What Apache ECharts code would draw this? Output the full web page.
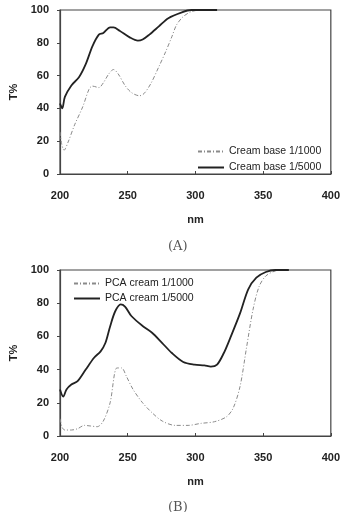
<!DOCTYPE html>
<html>
<head>
<meta charset="utf-8">
<script src="https://cdn.jsdelivr.net/npm/echarts@6/dist/echarts.min.js"></script>
<style>
  html, body { margin: 0; padding: 0; background: #fff; }
  #main { width: 343px; height: 512px; }
</style>
</head>
<body>
<div id="main"></div>
<script>
// wavelength (nm) / transmittance (%) pairs
var creamBase1000 = [
  [200, 25.7], [201.2, 18.5], [203, 14.5], [206, 19.5], [210.8, 30], [216.8, 41],
  [221.6, 52], [224, 53.6], [228.7, 52.7], [232, 55.6], [236, 61], [239.5, 63.7],
  [243, 61], [248, 54], [252.7, 49.7], [258.7, 47.7], [262, 49], [267, 55],
  [273, 65.4], [278, 74.5], [282.6, 83.7], [286, 90.8], [291, 96], [297, 99],
  [304, 100], [316, 100]
];
var creamBase5000 = [
  [200, 43], [201.7, 40], [203.6, 47], [208.4, 54], [214, 59], [219, 67],
  [224, 78], [228.7, 85], [232, 86], [237, 89.4], [239.5, 89.4], [244, 87.4],
  [251.5, 83.3], [257.5, 81.3], [261, 82], [266, 85], [273, 90], [280, 95],
  [290, 98.6], [297, 100], [316, 100]
];
var pcaCream1000 = [
  [200, 10.4], [201.7, 5], [203.6, 3.6], [208.4, 3.6], [213, 4.4], [218, 6.4],
  [222.8, 6], [227.5, 5.6], [232, 9], [237, 20], [242, 41], [245.5, 41],
  [249, 36], [254, 28], [261, 20], [268, 14], [275.5, 9], [285, 6.4],
  [294.6, 6.4], [304, 7.6], [314, 8.6], [323, 11.6], [328, 17], [333, 30],
  [337.7, 53], [342.5, 76], [347, 90], [352, 96.4], [359, 99.4], [369, 100]
];
var pcaCream5000 = [
  [200, 28], [202.4, 23.7], [204.8, 28], [208.4, 31], [213, 33], [219, 40],
  [225, 47], [230, 51], [233.5, 56], [237, 66], [240.7, 75], [244.8, 79.3],
  [248, 78], [252.7, 72.3], [261, 66.3], [268, 62.2], [275.5, 56], [282.6, 50],
  [291, 44.6], [299.4, 43], [306.6, 42.5], [311.4, 41.8], [316, 43], [321, 50],
  [325.7, 59], [333, 74], [339, 88.4], [345, 95.4], [352, 98.8], [359, 100],
  [369, 100]
];
var namesA = ['Cream base 1/1000', 'Cream base 1/5000'];
var namesB = ['PCA cream 1/1000', 'PCA cream 1/5000'];

var font = 'Liberation Sans, Arial, sans-serif';
var dashed = { color: '#8a8a8a', width: 1, type: [4, 2, 1, 2] };
var solid = { color: '#222', width: 1.8 };

function xAx(idx) {
  return {
    gridIndex: idx, type: 'value', min: 200, max: 400, interval: 50,
    name: 'nm', nameLocation: 'middle', nameGap: 40,
    nameTextStyle: { fontFamily: font, fontSize: 11, fontWeight: 'bold', color: '#222' },
    axisLine: { lineStyle: { color: '#444', width: 1.2 } },
    axisTick: { inside: true, length: 3, lineStyle: { color: '#444' } },
    axisLabel: { margin: 16, fontFamily: font, fontSize: 11, fontWeight: 'bold', color: '#222' },
    splitLine: { show: false }
  };
}
function yAx(idx) {
  return {
    gridIndex: idx, type: 'value', min: 0, max: 100, interval: 20,
    name: 'T%', nameLocation: 'middle', nameGap: 41, nameRotate: 90,
    nameTextStyle: { fontFamily: font, fontSize: 11, fontWeight: 'bold', color: '#222' },
    axisLine: { lineStyle: { color: '#444', width: 1.2 } },
    axisTick: { show: true, length: 3, lineStyle: { color: '#444' } },
    axisLabel: { margin: 11, fontFamily: font, fontSize: 11, fontWeight: 'bold', color: '#222' },
    splitLine: { show: false }
  };
}
function line(name, data, idx, style) {
  return {
    name: name, type: 'line', xAxisIndex: idx, yAxisIndex: idx,
    data: data, smooth: 0.3, showSymbol: false, symbol: 'none',
    lineStyle: style, itemStyle: { color: style.color }, silent: true
  };
}
function legend(names, left, top, gap) {
  return {
    data: names, orient: 'vertical', left: left, top: top, itemGap: gap, padding: 0,
    itemWidth: 26, itemHeight: 10, itemStyle: { opacity: 0 },
    textStyle: { fontFamily: font, fontSize: 10.5, color: '#222' }
  };
}

var myChart = echarts.init(document.getElementById('main'));
myChart.setOption({
  backgroundColor: '#fff',
  animation: false,
  grid: [
    { left: 55, top: 10, width: 278, height: 164, show: true, borderColor: '#444', borderWidth: 1.2 },
    { left: 55, top: 270, width: 278, height: 166, show: true, borderColor: '#444', borderWidth: 1.2 }
  ],
  xAxis: [xAx(0), xAx(1)],
  yAxis: [yAx(0), yAx(1)],
  legend: [legend(namesA, 197, 146, 5), legend(namesB, 73, 278, 4)],
  series: [
    line(namesA[0], creamBase1000, 0, dashed),
    line(namesA[1], creamBase5000, 0, solid),
    line(namesB[0], pcaCream1000, 1, dashed),
    line(namesB[1], pcaCream5000, 1, solid)
  ],
  graphic: [
    { type: 'text', left: 168, top: 240, style: { text: '(A)', font: '13px "DejaVu Serif", serif', fill: '#555' } },
    { type: 'text', left: 168, top: 501, style: { text: '(B)', font: '13px "DejaVu Serif", serif', fill: '#555' } }
  ]
});
</script>
</body>
</html>
